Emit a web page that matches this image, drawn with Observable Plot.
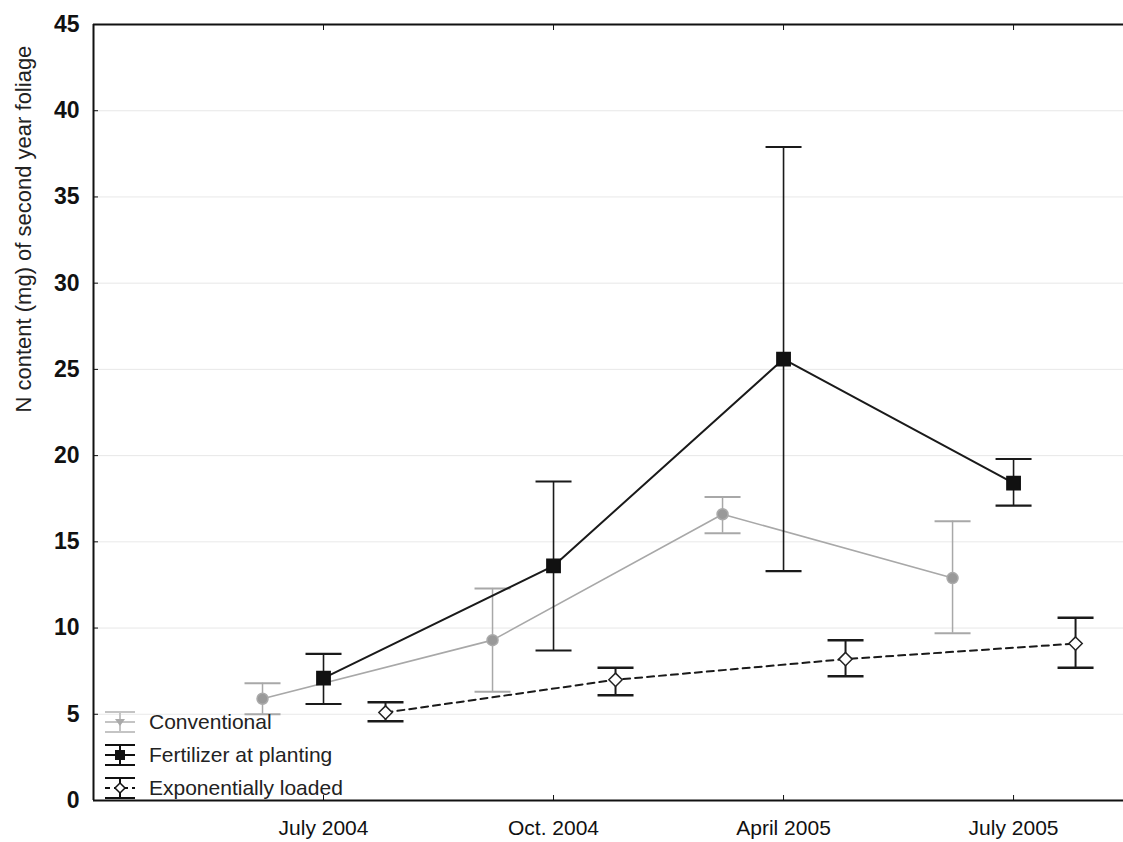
<!DOCTYPE html>
<html>
<head>
<meta charset="utf-8">
<script src="https://cdn.jsdelivr.net/npm/d3@7"></script>
<script src="https://cdn.jsdelivr.net/npm/@observablehq/plot@0.6"></script>
<style>
  body { margin: 0; background: #fff; font-family: "Liberation Sans", Arial, sans-serif; overflow: hidden; }
  #wrap { position: relative; width: 1123px; height: 842px; }
  #chart svg { font-family: "Liberation Sans", Arial, sans-serif; color: #111; }
  #legend { position: absolute; left: 103px; top: 705px; font-size: 21px; color: #222; }
  .item { display: flex; align-items: center; height: 33px; }
  .item svg { margin-right: 12px; }
</style>
</head>
<body>
<div id="wrap">
  <div id="chart"></div>
  <div id="legend"></div>
</div>
<script>
const dates = ["July 2004", "Oct. 2004", "April 2005", "July 2005"];
const seriesNames = ["Conventional", "Fertilizer at planting", "Exponentially loaded"];
const yLabel = "N content (mg) of second year foliage";

const convMean = [5.9, 9.3, 16.6, 12.9];
const convHigh = [6.8, 12.3, 17.6, 16.2];
const convLow  = [5.0, 6.3, 15.5, 9.7];

const fertMean = [7.1, 13.6, 25.6, 18.4];
const fertHigh = [8.5, 18.5, 37.9, 19.8];
const fertLow  = [5.6, 8.7, 13.3, 17.1];

const expMean = [5.1, 7.0, 8.2, 9.1];
const expHigh = [5.7, 7.7, 9.3, 10.6];
const expLow  = [4.6, 6.1, 7.2, 7.7];

const yTicks = [0, 5, 10, 15, 20, 25, 30, 35, 40, 45];
const xTicks = [1, 2, 3, 4];

function rows(mean, high, low) {
  return dates.map((d, i) => ({ x: i + 1, label: d, y: mean[i], y1: low[i], y2: high[i] }));
}
const conv = rows(convMean, convHigh, convLow);
const fert = rows(fertMean, fertHigh, fertLow);
const expo = rows(expMean, expHigh, expLow);

const capSymbol = { draw(ctx, size) { ctx.moveTo(-18, 0); ctx.lineTo(18, 0); } };

const gray = "#a8a8a8";

function series(data, opts) {
  const { dx, color, lineWidth, dash, barWidth, markerSymbol, markerR, markerFill, markerStroke } = opts;
  return [
    Plot.line(data, { x: "x", y: "y", dx, stroke: color, strokeWidth: lineWidth, strokeDasharray: dash }),
    Plot.ruleX(data, { x: "x", y1: "y1", y2: "y2", dx, stroke: color, strokeWidth: barWidth }),
    Plot.dot(data, { x: "x", y: "y1", dx, symbol: capSymbol, r: 5, stroke: color, strokeWidth: barWidth + 0.5, fill: "none" }),
    Plot.dot(data, { x: "x", y: "y2", dx, symbol: capSymbol, r: 5, stroke: color, strokeWidth: barWidth + 0.5, fill: "none" }),
    Plot.dot(data, { x: "x", y: "y", dx, symbol: markerSymbol, r: markerR, fill: markerFill, stroke: markerStroke, strokeWidth: 1.5 })
  ];
}

const chart = Plot.plot({
  width: 1123,
  height: 842,
  marginLeft: 93,
  marginRight: 0,
  marginTop: 24,
  marginBottom: 42,
  x: { type: "linear", domain: [0, 4.478] },
  y: { type: "linear", domain: [0, 45] },
  marks: [
    Plot.gridY(yTicks, { stroke: "#d8d8d8", strokeOpacity: 0.6 }),
    Plot.axisY(yTicks, { anchor: "left", tickSize: -5, tickPadding: 19, fontSize: 23, fontWeight: "bold", label: null }),
    Plot.text([yLabel], { frameAnchor: "left", rotate: -90, dx: -70, fontSize: 22, fill: "#222" }),
    Plot.axisX(xTicks, { anchor: "bottom", tickSize: -5, tickPadding: 25, fontSize: 21, tickFormat: (v) => dates[v - 1], label: null }),
    Plot.axisX(xTicks, { anchor: "top", tickSize: -5, text: null, label: null }),
    Plot.ruleX([0], { stroke: "#111", strokeWidth: 2 }),
    Plot.ruleY([0, 45], { stroke: "#111", strokeWidth: 2 }),
    ...series(conv, { dx: -61, color: gray, lineWidth: 1.6, dash: null, barWidth: 1.5,
      markerSymbol: "circle", markerR: 5.5, markerFill: "#999", markerStroke: "#aaa" }),
    ...series(fert, { dx: 0, color: "#1a1a1a", lineWidth: 2, dash: null, barWidth: 1.6,
      markerSymbol: "square", markerR: 7.5, markerFill: "#111", markerStroke: "#111" }),
    ...series(expo, { dx: 62, color: "#1a1a1a", lineWidth: 2, dash: "7,5", barWidth: 2,
      markerSymbol: "diamond2", markerR: 6, markerFill: "#fff", markerStroke: "#222" })
  ]
});

document.getElementById("chart").appendChild(chart);

// Legend
const legend = d3.select("#legend");
const icons = [
  { name: seriesNames[0], color: "#c4c4c4", dash: null, marker: "tri" },
  { name: seriesNames[1], color: "#111", dash: null, marker: "sq" },
  { name: seriesNames[2], color: "#111", dash: "5,4", marker: "dia" }
];
icons.forEach((it) => {
  const row = legend.append("div").attr("class", "item");
  const s = row.append("svg").attr("width", 34).attr("height", 30);
  s.append("line").attr("x1", 2).attr("x2", 32).attr("y1", 15).attr("y2", 15)
    .attr("stroke", it.color).attr("stroke-width", 2).attr("stroke-dasharray", it.dash);
  s.append("line").attr("x1", 17).attr("x2", 17).attr("y1", 5).attr("y2", 25).attr("stroke", it.color).attr("stroke-width", 2);
  s.append("line").attr("x1", 2).attr("x2", 32).attr("y1", 5).attr("y2", 5).attr("stroke", it.color).attr("stroke-width", 2);
  s.append("line").attr("x1", 2).attr("x2", 32).attr("y1", 25).attr("y2", 25).attr("stroke", it.color).attr("stroke-width", 2);
  if (it.marker === "tri") s.append("path").attr("d", "M12,12 L22,12 L17,19 Z").attr("fill", "#aaa");
  if (it.marker === "sq") s.append("rect").attr("x", 12).attr("y", 10).attr("width", 10).attr("height", 10).attr("fill", "#111");
  if (it.marker === "dia") s.append("path").attr("d", "M17,10 L22,15 L17,20 L12,15 Z").attr("fill", "#fff").attr("stroke", "#111").attr("stroke-width", 1.5);
  row.append("span").text(it.name);
});
</script>
</body>
</html>
